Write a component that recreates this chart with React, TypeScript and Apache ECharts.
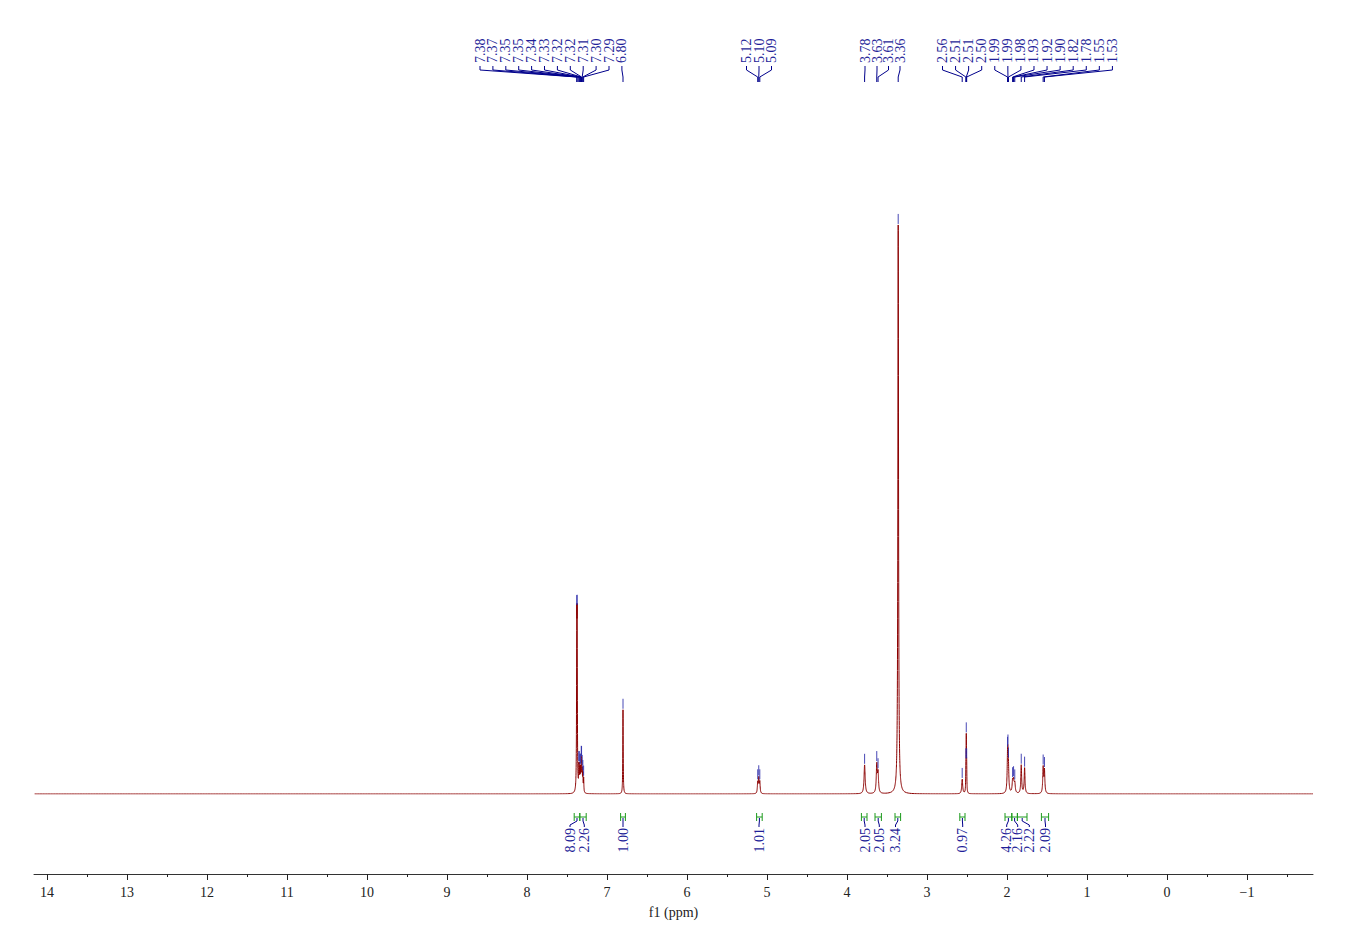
import React, { useEffect, useRef } from "react";
import * as echarts from "echarts";

// ---------- data ----------
const axisTicks = [14, 13, 12, 11, 10, 9, 8, 7, 6, 5, 4, 3, 2, 1, 0, -1];
const minorTicks = [13.5, 12.5, 11.5, 10.5, 9.5, 8.5, 7.5, 6.5, 5.5, 4.5, 3.5, 2.5, 1.5, 0.5, -0.5, -1.5];

// picked peaks (label, position ppm, height (water peak = 100), half width ppm)
const peakLabels = [
  "7.38", "7.37", "7.35", "7.35", "7.34", "7.33", "7.32", "7.32", "7.31", "7.30", "7.29", "6.80",
  "5.12", "5.10", "5.09",
  "3.78", "3.63", "3.61", "3.36",
  "2.56", "2.51", "2.51", "2.50", "1.99", "1.99", "1.98", "1.93", "1.92", "1.90", "1.82", "1.78", "1.55", "1.53",
];
const peakPpm = [
  7.378, 7.373, 7.352, 7.347, 7.338, 7.330, 7.322, 7.318, 7.310, 7.302, 7.292, 6.800,
  5.116, 5.103, 5.090,
  3.780, 3.628, 3.612, 3.360,
  2.560, 2.514, 2.509, 2.504, 1.993, 1.988, 1.982, 1.930, 1.918, 1.903, 1.822, 1.780, 1.548, 1.532,
];
const peakHeight = [
  26, 26, 3.5, 3.5, 3.5, 3.5, 4, 4, 3.5, 3, 2.5, 14.8,
  2.0, 2.6, 2.0,
  5.1, 5.0, 3.5, 100,
  2.6, 4, 9, 4, 5, 4, 3, 2, 2, 1.8, 5.0, 4.5, 4.5, 4.0,
];
const peakWidth = [
  0.003, 0.003, 0.003, 0.003, 0.003, 0.003, 0.003, 0.003, 0.003, 0.003, 0.003, 0.003,
  0.005, 0.005, 0.005,
  0.008, 0.007, 0.007, 0.005,
  0.007, 0.0025, 0.0025, 0.0025, 0.006, 0.006, 0.006, 0.007, 0.007, 0.007, 0.006, 0.006, 0.006, 0.006,
];

// integrals
const integralValues = ["8.09", "2.26", "1.00", "1.01", "2.05", "2.05", "3.24", "0.97", "4.26", "2.16", "2.22", "2.09"];
const integralFrom = [7.41, 7.34, 6.83, 5.13, 3.82, 3.65, 3.40, 2.59, 2.025, 1.94, 1.87, 1.57];
const integralTo = [7.34, 7.26, 6.77, 5.06, 3.75, 3.57, 3.33, 2.525, 1.94, 1.87, 1.75, 1.48];

// ---------- layout ----------
const X_MIN = -1.825;
const X_MAX = 14.1625;
const BLUE_TEXT = "#1f1f99";
const BLUE_LINE = "#00008b";
const GREEN = "#1c9a1c";
const FONT = "14px 'Liberation Serif'";

const peakLabelX: number[] = [];
for (let i = 0; i < 12; i++) peakLabelX.push(480 + i * 12.9);
[746.5, 759, 771.5].forEach((v) => peakLabelX.push(v));
[865, 877, 888.5, 900].forEach((v) => peakLabelX.push(v));
for (let i = 0; i < 14; i++) peakLabelX.push(942.5 + i * 13.07);

const integralLabelX = [570, 584.3, 623, 759, 865, 879.3, 895.5, 962.7, 1006.7, 1017.7, 1029.3, 1045.5];

const spec = (x: number) => {
  let s = 0;
  for (let i = 0; i < peakPpm.length; i++) {
    const d = (x - peakPpm[i]) / peakWidth[i];
    s += peakHeight[i] / (1 + d * d);
  }
  return s;
};

function buildLine() {
  const xs = new Set<number>();
  for (let k = 0; k <= 800; k++) xs.add(+(X_MIN + k * 0.02).toFixed(4));
  xs.add(X_MAX);
  peakPpm.forEach((p) => {
    for (let k = -160; k <= 160; k++) xs.add(+(p + k * 0.0005).toFixed(4));
    xs.add(p);
  });
  return Array.from(xs)
    .filter((x) => x >= X_MIN && x <= X_MAX)
    .sort((a, b) => a - b)
    .map((x) => [x, spec(x)]);
}

export default function App() {
  const ref = useRef<HTMLDivElement>(null);
  useEffect(() => {
    if (!ref.current) return;
    const chart = echarts.init(ref.current, null, { renderer: "svg" });
    const option: any = {
      animation: false,
      backgroundColor: "#ffffff",
      grid: { left: 34, right: 35, top: 111.2, bottom: 158, outerBoundsMode: "none" },
      xAxis: [
        {
          type: "value",
          inverse: true,
          min: X_MIN,
          max: X_MAX,
          position: "bottom",
          offset: 80,
          splitLine: { show: false },
          axisLine: { show: true, onZero: false, lineStyle: { color: "#333", width: 1 } },
          axisTick: { show: true, length: 6, inside: false, customValues: axisTicks, lineStyle: { color: "#222" } },
          axisLabel: {
            show: true,
            customValues: axisTicks,
            margin: 11,
            color: "#222",
            fontFamily: "Liberation Serif",
            fontSize: 14,
            formatter: (v: number) => String(v).replace("-", "\u2212"),
          },
          name: "f1 (ppm)",
          nameLocation: "middle",
          nameGap: 31,
          nameTextStyle: { color: "#222", fontFamily: "Liberation Serif", fontSize: 14 },
        },
        {
          type: "value",
          inverse: true,
          min: X_MIN,
          max: X_MAX,
          position: "bottom",
          offset: 80,
          splitLine: { show: false },
          axisLine: { show: false, onZero: false },
          axisTick: { show: true, length: 3, customValues: minorTicks, lineStyle: { color: "#222" } },
          axisLabel: { show: false },
        },
      ],
      yAxis: { type: "value", min: 0, max: 120, show: false },
      series: [
        {
          type: "line",
          xAxisIndex: 0,
          data: buildLine(),
          showSymbol: false,
          symbol: "none",
          lineStyle: { color: "#8b0000", width: 1 },
          silent: true,
          z: 2,
        },
        {
          type: "custom",
          xAxisIndex: 0,
          clip: false,
          silent: true,
          z: 5,
          data: peakPpm.map((p, i) => [p, i]),
          renderItem: (params: any, api: any) => {
            const i = params.dataIndex;
            const p = peakPpm[i];
            const top = api.coord([p, spec(p)]);
            const px = top[0];
            const py = top[1];
            const lx = peakLabelX[i];
            return {
              type: "group",
              children: [
                {
                  type: "text",
                  x: lx,
                  y: 63,
                  rotation: Math.PI / 2,
                  style: { text: peakLabels[i], fill: BLUE_TEXT, font: FONT, align: "left", verticalAlign: "middle" },
                },
                {
                  type: "polyline",
                  shape: { points: [[lx, 66], [lx, 70], [px, 77], [px, 82]] },
                  style: { stroke: BLUE_LINE, lineWidth: 1, fill: null },
                },
                {
                  type: "line",
                  shape: { x1: px, y1: py - 11, x2: px, y2: py - 1 },
                  style: { stroke: "#2828a8", lineWidth: 1, opacity: 0.85 },
                },
              ],
            };
          },
        },
        {
          type: "custom",
          xAxisIndex: 0,
          clip: false,
          silent: true,
          z: 5,
          data: integralFrom.map((f, i) => [f, integralTo[i]]),
          renderItem: (params: any, api: any) => {
            const i = params.dataIndex;
            const x1 = api.coord([integralFrom[i], 0])[0];
            const x2 = api.coord([integralTo[i], 0])[0];
            const hx = (x1 + x2) / 2;
            const lx = integralLabelX[i];
            return {
              type: "group",
              children: [
                { type: "line", shape: { x1, y1: 817, x2, y2: 817 }, style: { stroke: GREEN, lineWidth: 1 } },
                { type: "line", shape: { x1, y1: 813, x2: x1, y2: 821 }, style: { stroke: GREEN, lineWidth: 1 } },
                { type: "line", shape: { x1: x2, y1: 813, x2, y2: 821 }, style: { stroke: GREEN, lineWidth: 1 } },
                {
                  type: "polyline",
                  shape: { points: [[hx, 818], [hx, 821], [lx, 825], [lx, 827]] },
                  style: { stroke: BLUE_LINE, lineWidth: 1, fill: null },
                },
                {
                  type: "text",
                  x: lx,
                  y: 828,
                  rotation: Math.PI / 2,
                  style: { text: integralValues[i], fill: BLUE_TEXT, font: FONT, align: "right", verticalAlign: "middle" },
                },
              ],
            };
          },
        },
      ],
    };
    chart.setOption(option);
    return () => chart.dispose();
  }, []);
  return (
    <div
      ref={ref}
      style={{ position: "fixed", left: 0, top: 0, width: 1348, height: 952, background: "#fff" }}
    />
  );
}
